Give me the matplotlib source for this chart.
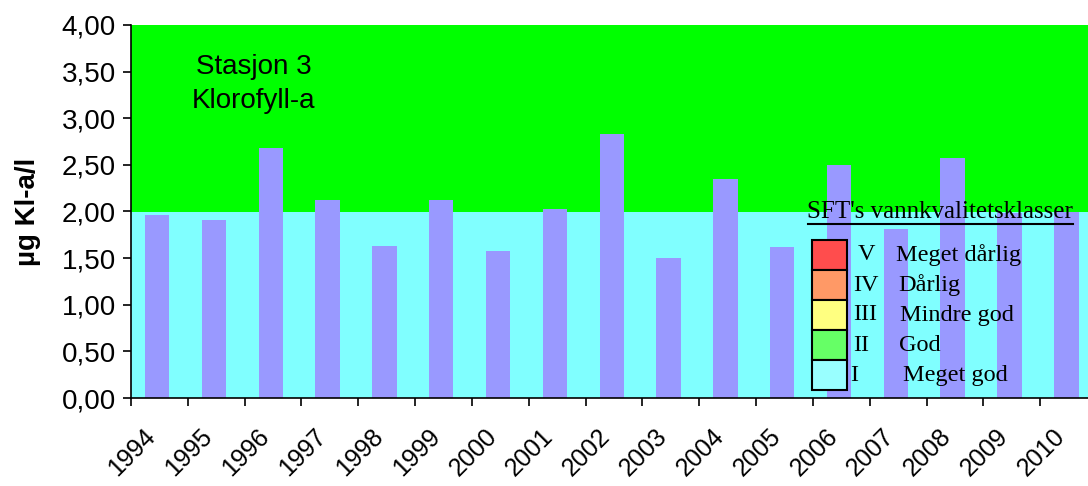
import matplotlib
matplotlib.use("Agg")
import matplotlib.pyplot as plt
from matplotlib.patches import Rectangle
from matplotlib.lines import Line2D
import matplotlib.transforms as mtransforms
import numpy as np

years = ["1994", "1995", "1996", "1997", "1998", "1999", "2000", "2001", "2002",
         "2003", "2004", "2005", "2006", "2007", "2008", "2009", "2010"]
values = [1.96, 1.91, 2.68, 2.12, 1.63, 2.12, 1.58, 2.03, 2.83,
          1.50, 2.35, 1.62, 2.50, 1.81, 2.57, 1.98, 1.99]
y_ticks = [0.0, 0.5, 1.0, 1.5, 2.0, 2.5, 3.0, 3.5, 4.0]
class_numerals = ["V", "IV", "III", "II", "I"]
class_names = ["Meget dårlig", "Dårlig", "Mindre god", "God", "Meget god"]
class_colors = ["#FF4D4D", "#FF9966", "#FFFF80", "#66FF66", "#99FFFF"]

W, H = 1088, 486
fig = plt.figure(figsize=(W / 100, H / 100), dpi=100)

def fx(px):
    return px / W

def fy(py):
    return 1 - py / H

left, right, top, bottom = 131, 1097, 25, 398
ax = fig.add_axes([fx(left), fy(bottom), (right - left) / W, (bottom - top) / H])

n = len(years)
x = np.arange(n)
ax.set_xlim(-0.5, n - 0.5)
ax.set_ylim(0, 4)
ax.axhspan(0, 2, color="#80FFFF", zorder=0, lw=0)
ax.axhspan(2, 4, color="#00FF00", zorder=0, lw=0)
ax.bar(x - 0.04, values, width=0.43, color="#9999FF", zorder=2, lw=0)

for s in ["top", "right"]:
    ax.spines[s].set_visible(False)
ax.spines["left"].set_linewidth(1.2)
ax.spines["bottom"].set_linewidth(1.2)

ax.set_yticks(y_ticks)
ax.set_yticklabels([f"{v:.2f}".replace(".", ",") for v in y_ticks],
                   fontsize=20, family="Liberation Sans")
ax.tick_params(axis="y", direction="out", length=6, width=1.2, pad=5)

ax.set_xticks(np.arange(-0.5, n, 1.0))
ax.set_xticklabels([])
ax.tick_params(axis="x", which="major", direction="out", length=6, width=1.2)
ax.set_xticks(x, minor=True)
ax.set_xticklabels(years, minor=True, rotation=45, ha="right",
                   rotation_mode="anchor", fontsize=18, family="Liberation Sans")
ax.tick_params(axis="x", which="minor", length=0, pad=19)
shift = mtransforms.ScaledTranslation(-16 / 100, 0, fig.dpi_scale_trans)
for lab in ax.get_xticklabels(minor=True):
    lab.set_transform(lab.get_transform() + shift)

fig.text(fx(28), fy(212), "µg Kl-a/l", rotation=90, ha="center", va="center",
         fontsize=20, fontweight="bold", family="Liberation Sans")

fig.text(fx(254), fy(67), "Stasjon 3", ha="center", va="center",
         fontsize=20, family="Liberation Sans")
fig.text(fx(254), fy(101), "Klorofyll-a", ha="center", va="center",
         fontsize=20, family="Liberation Sans")

# legend for SFT classes
fig.text(fx(940), fy(212), "SFT's vannkvalitetsklasser", ha="center", va="center",
         fontsize=18, family="Liberation Serif")
fig.add_artist(Line2D([fx(808), fx(1073)], [fy(224), fy(224)], color="black", lw=1.5))
box_top = 240
box_h = 30
num_x = [858, 853, 853, 853, 850]
name_x = [896, 898, 900, 899, 903]
for i, (num, name, col) in enumerate(zip(class_numerals, class_names, class_colors)):
    yt = box_top + i * box_h
    fig.add_artist(Rectangle((fx(812), fy(yt + box_h)), 35 / W, box_h / H,
                             facecolor=col, edgecolor="black", lw=1.5))
    fig.text(fx(num_x[i]), fy(yt + box_h / 2), num, ha="left", va="center",
             fontsize=17.5, family="Liberation Serif")
    fig.text(fx(name_x[i]), fy(yt + box_h / 2), name, ha="left", va="center",
             fontsize=17.5, family="Liberation Serif")

fig.savefig("out.png", dpi=100)
